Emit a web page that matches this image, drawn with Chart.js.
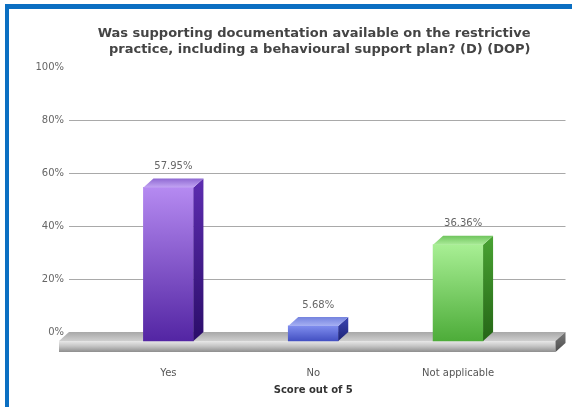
<!DOCTYPE html>
<html>
<head>
<meta charset="utf-8">
<script src="https://cdn.jsdelivr.net/npm/chart.js@4/dist/chart.umd.min.js"></script>
<style>
  html, body { margin: 0; padding: 0; background: #fff; overflow: hidden; }
  #frame { position: absolute; left: 5px; top: 4px; right: -20px; bottom: -20px;
           border-left: 4px solid #0b6fc2; border-top: 5px solid #0b6fc2; }
  #wrap { position: absolute; left: 0; top: 0; width: 572px; height: 407px; }
</style>
</head>
<body>
<div id="frame"></div>
<div id="wrap"><canvas id="chart" width="572" height="407"></canvas></div>
<script>
// Answers and their share of responses
const categories = ['Yes', 'No', 'Not applicable'];
const percentages = [57.95, 5.68, 36.36];
const yStep = 20;

// Bar face colours: front [top, bottom], side [top, bottom], cap [back, front]
const frontColors = [['#b58af1', '#5325a3'], ['#7f8dee', '#4350c2'], ['#a8ef94', '#4dac39']];
const sideColors = [['#5d2db0', '#2b0d6a'], ['#3b45b2', '#1d2377'], ['#49a333', '#256616']];
const capColors = [['#8e68d2', '#c2a4f3'], ['#7482de', '#a6b0f3'], ['#6fc45d', '#a9eb97']];

const DEPTH_X = 10;
const DEPTH_Y = 9;
const FLOOR_LEFT = 37;
const FLOOR_RIGHT = 25;
const FLOOR_H = 11;

Chart.defaults.font.family = "'DejaVu Sans', sans-serif";

function vGrad(ctx, y1, y2, c1, c2) {
    const g = ctx.createLinearGradient(0, y1, 0, y2);
    g.addColorStop(0, c1);
    g.addColorStop(1, c2);
    return g;
}

// Back wall grid, floor slab and the 3D sides/caps of the bars
const depthPlugin = {
    id: 'depth',
    beforeDatasetsDraw(chart) {
        const { ctx, chartArea: a, scales: { y } } = chart;
        const y0 = y.getPixelForValue(0);
        const fl = a.left - FLOOR_LEFT;
        const fr = a.right + FLOOR_RIGHT;
        const fy = y0 + DEPTH_Y;

        ctx.save();
        ctx.strokeStyle = '#a9a9a9';
        ctx.lineWidth = 1;
        y.ticks.forEach(t => {
            if (t.value <= y.min || t.value >= y.max) return;
            const py = Math.round(y.getPixelForValue(t.value)) + 0.5;
            ctx.beginPath();
            ctx.moveTo(fl + DEPTH_X, py);
            ctx.lineTo(fr + DEPTH_X, py);
            ctx.stroke();
        });

        // floor top
        ctx.fillStyle = vGrad(ctx, y0, fy, '#a8a8a8', '#cfcfcf');
        ctx.beginPath();
        ctx.moveTo(fl + DEPTH_X, y0);
        ctx.lineTo(fr + DEPTH_X, y0);
        ctx.lineTo(fr, fy);
        ctx.lineTo(fl, fy);
        ctx.closePath();
        ctx.fill();

        // floor front
        const g = ctx.createLinearGradient(0, fy, 0, fy + FLOOR_H);
        g.addColorStop(0, '#e8e8e8');
        g.addColorStop(0.45, '#c6c6c6');
        g.addColorStop(1, '#8e8e8e');
        ctx.fillStyle = g;
        ctx.fillRect(fl, fy, fr - fl, FLOOR_H);

        // floor right end
        ctx.fillStyle = vGrad(ctx, y0, fy + FLOOR_H, '#7a7a7a', '#4e4e4e');
        ctx.beginPath();
        ctx.moveTo(fr, fy);
        ctx.lineTo(fr + DEPTH_X, y0);
        ctx.lineTo(fr + DEPTH_X, y0 + FLOOR_H);
        ctx.lineTo(fr, fy + FLOOR_H);
        ctx.closePath();
        ctx.fill();
        ctx.restore();

        // front faces sit one depth step in front of the wall
        ctx.save();
        ctx.translate(0, DEPTH_Y);
    },
    afterDatasetsDraw(chart) {
        const { ctx } = chart;
        ctx.restore();

        const meta = chart.getDatasetMeta(0);
        meta.data.forEach((bar, i) => {
            const { x, y, base, width } = bar.getProps(['x', 'y', 'base', 'width'], true);
            const l = x - width / 2;
            const r = x + width / 2;
            const ft = y + DEPTH_Y;
            const fb = base + DEPTH_Y;

            // right side
            ctx.fillStyle = vGrad(ctx, y, fb, sideColors[i][0], sideColors[i][1]);
            ctx.beginPath();
            ctx.moveTo(r, ft);
            ctx.lineTo(r + DEPTH_X, y);
            ctx.lineTo(r + DEPTH_X, base);
            ctx.lineTo(r, fb);
            ctx.closePath();
            ctx.fill();

            // cap
            ctx.fillStyle = vGrad(ctx, y, ft, capColors[i][0], capColors[i][1]);
            ctx.beginPath();
            ctx.moveTo(l, ft);
            ctx.lineTo(l + DEPTH_X, y);
            ctx.lineTo(r + DEPTH_X, y);
            ctx.lineTo(r, ft);
            ctx.closePath();
            ctx.fill();

            // value label
            ctx.fillStyle = '#666';
            ctx.font = "10px 'DejaVu Sans'";
            ctx.textAlign = 'center';
            ctx.textBaseline = 'middle';
            ctx.fillText(percentages[i].toFixed(2) + '%', x + DEPTH_X / 2, y - 12);
        });
    }
};

const ctx = document.getElementById('chart').getContext('2d');
const chart = new Chart(ctx, {
    type: 'bar',
    data: {
        labels: categories,
        datasets: [{
            data: percentages,
            barThickness: 50,
            borderWidth: 0,
            clip: false,
            backgroundColor: (c) => {
                const ch = c.chart;
                if (!ch.chartArea) return frontColors[c.dataIndex][0];
                const y = ch.scales.y;
                return vGrad(ch.ctx, y.getPixelForValue(percentages[c.dataIndex]), y.getPixelForValue(0),
                    frontColors[c.dataIndex][0], frontColors[c.dataIndex][1]);
            },
        }],
    },
    options: {
        responsive: false,
        animation: false,
        layout: { padding: { left: 0, right: 41.5, top: 0, bottom: 11 } },
        plugins: {
            legend: { display: false },
            tooltip: { enabled: false },
            title: {
                display: true,
                text: ['Was supporting documentation available on the restrictive',
                       'practice, including a behavioural support plan? (D) (DOP)'],
                align: 'end',
                color: '#444',
                font: { size: 13, weight: 'bold', lineHeight: 1.23 },
                padding: { top: 26, bottom: 9 },
            },
        },
        scales: {
            x: {
                grid: { display: false, drawTicks: false },
                border: { display: false },
                ticks: { color: '#555', font: { size: 10 }, padding: 35, maxRotation: 0, autoSkip: false },
                title: {
                    display: true,
                    text: 'Score out of 5',
                    color: '#333',
                    font: { size: 10, weight: 'bold' },
                    padding: { top: 5, bottom: 0 },
                },
                afterFit: (s) => { s.height = 64; },
            },
            y: {
                min: 0,
                max: 100,
                grid: { display: false, drawTicks: false },
                border: { display: false },
                ticks: { stepSize: yStep, color: '#666', font: { size: 10 }, padding: 32,
                         callback: (v) => v + '%' },
                afterFit: (s) => { s.width = 96; },
            },
        },
    },
    plugins: [depthPlugin],
});
</script>
</body>
</html>
